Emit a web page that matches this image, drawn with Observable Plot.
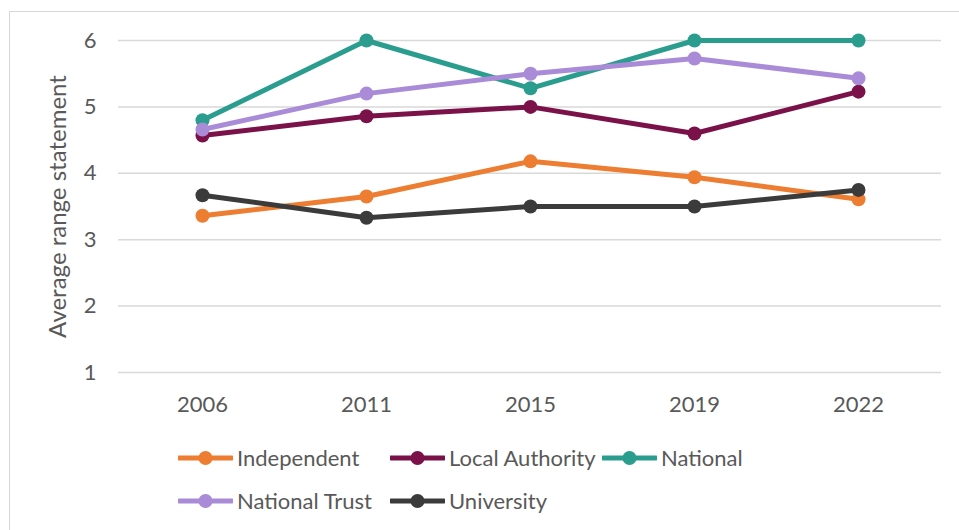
<!DOCTYPE html>
<html>
<head>
<meta charset="utf-8">
<script src="https://cdn.jsdelivr.net/npm/d3@7"></script>
<script src="https://cdn.jsdelivr.net/npm/@observablehq/plot@0.6"></script>
<style>
  html, body { margin: 0; padding: 0; background: #fff; }
  #wrap { position: absolute; left: 9px; top: 11px; width: 960px; height: 530px;
          border-top: 1.5px solid #d6d6d6; border-left: 1.5px solid #d6d6d6; font-family: Lato, sans-serif; }
  #chart svg { display: block; }
  #legend { margin-left: 168px; margin-top: 14px; display: grid;
            grid-template-columns: repeat(3, 212px); grid-auto-rows: 43px; }
  .item { display: flex; align-items: center; font-size: 22px; color: #595959; white-space: nowrap; }
  .item span { margin-left: 4px; }
</style>
</head>
<body>
<div id="wrap"><div id="chart"></div><div id="legend"></div></div>
<script>
const years = ["2006", "2011", "2015", "2019", "2022"];
const independent    = [3.36, 3.65, 4.18, 3.94, 3.61];
const localAuthority = [4.57, 4.86, 5.00, 4.60, 5.23];
const national       = [4.80, 6.00, 5.28, 6.00, 6.00];
const nationalTrust  = [4.66, 5.20, 5.50, 5.73, 5.43];
const university     = [3.67, 3.33, 3.50, 3.50, 3.75];
const seriesNames  = ["Independent", "Local Authority", "National", "National Trust", "University"];
const seriesValues = [independent, localAuthority, national, nationalTrust, university];
const seriesColors = ["#ED7D31", "#7A1149", "#2A9D8F", "#A98BD8", "#3B3B3B"];
const yTicks = [1, 2, 3, 4, 5, 6];

const rows = seriesNames.flatMap((name, i) =>
  years.map((year, j) => ({series: name, year, value: seriesValues[i][j]})));

const marks = [Plot.ruleY(yTicks, {stroke: "#d9d9d9", strokeWidth: 1.5})];
seriesNames.forEach(name => {
  const d = rows.filter(r => r.series === name);
  marks.push(Plot.line(d, {x: "year", y: "value", stroke: "series", strokeWidth: 5, strokeLinejoin: "round"}));
  marks.push(Plot.dot(d, {x: "year", y: "value", fill: "series", r: 7}));
});

const chart = Plot.plot({
  width: 949, height: 410,
  marginLeft: 108, marginRight: 18, marginTop: 28, marginBottom: 50,
  style: {fontFamily: "Lato, sans-serif", fontSize: "22px", color: "#595959", background: "transparent"},
  x: {type: "point", domain: years, padding: 0.5, label: null, tickSize: 0, tickPadding: 24},
  y: {domain: [1, 6], ticks: yTicks, tickFormat: "d", tickSize: 0, tickPadding: 22,
      label: "Average range statement", labelAnchor: "center", labelArrow: "none", labelOffset: 70},
  color: {domain: seriesNames, range: seriesColors},
  marks
});
chart.querySelectorAll('[aria-label="y-axis label"] text').forEach(t => t.style.fontSize = "24px");
document.getElementById("chart").appendChild(chart);

const legend = document.getElementById("legend");
seriesNames.forEach((name, i) => {
  const it = document.createElement("div");
  it.className = "item";
  it.innerHTML = `<svg width="55" height="20"><line x1="1" x2="54" y1="10" y2="10" stroke="${seriesColors[i]}" stroke-width="5" stroke-linecap="round"/><circle cx="27.5" cy="10" r="7" fill="${seriesColors[i]}"/></svg><span>${name}</span>`;
  legend.appendChild(it);
});
</script>
</body>
</html>
